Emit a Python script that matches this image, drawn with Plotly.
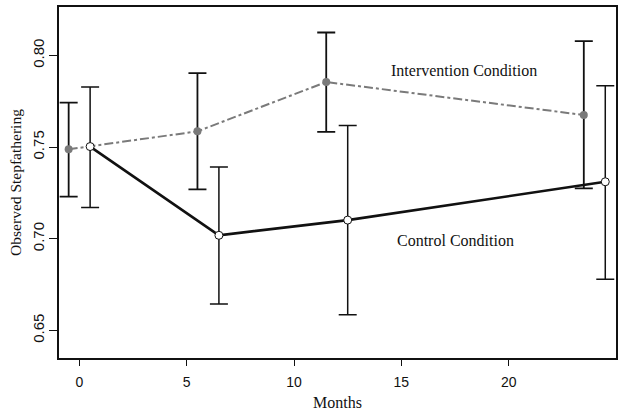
import plotly.graph_objects as go

# Data
int_months = [-0.5, 5.5, 11.5, 23.5]
int_mean = [0.7488, 0.7586, 0.7855, 0.7675]
int_upper = [0.7743, 0.7903, 0.8125, 0.8078]
int_lower = [0.7230, 0.7269, 0.7583, 0.7275]

ctl_months = [0.5, 6.5, 12.5, 24.5]
ctl_mean = [0.7503, 0.7019, 0.7102, 0.7311]
ctl_upper = [0.7828, 0.7391, 0.7618, 0.7835]
ctl_lower = [0.7170, 0.6644, 0.6586, 0.6780]

x_ticks = [0, 5, 10, 15, 20]
y_ticks = [0.65, 0.70, 0.75, 0.80]
y_tick_labels = ["0.65", "0.70", "0.75", "0.80"]

fig = go.Figure()

fig.add_trace(go.Scatter(
    x=int_months, y=int_mean, mode="lines+markers",
    line=dict(color="#7a7a7a", width=2, dash="dashdot"),
    marker=dict(color="#7a7a7a", size=8),
    error_y=dict(type="data", symmetric=False,
                 array=[u - m for u, m in zip(int_upper, int_mean)],
                 arrayminus=[m - l for m, l in zip(int_mean, int_lower)],
                 color="#111111", thickness=1.8, width=9),
    showlegend=False, hoverinfo="skip"))

fig.add_trace(go.Scatter(
    x=ctl_months, y=ctl_mean, mode="lines+markers",
    line=dict(color="#111111", width=2.6),
    marker=dict(color="white", size=8, line=dict(color="#111111", width=1)),
    error_y=dict(type="data", symmetric=False,
                 array=[u - m for u, m in zip(ctl_upper, ctl_mean)],
                 arrayminus=[m - l for m, l in zip(ctl_mean, ctl_lower)],
                 color="#111111", thickness=1.5, width=9),
    showlegend=False, hoverinfo="skip"))

serif = "Liberation Serif"
sans = "Liberation Sans"

fig.add_annotation(x=17.9, y=0.7918, text="Intervention Condition", showarrow=False,
                   font=dict(family=serif, size=16, color="#111111"))
fig.add_annotation(x=17.5, y=0.699, text="Control Condition", showarrow=False,
                   font=dict(family=serif, size=16, color="#111111"))

fig.update_layout(
    width=625, height=414,
    margin=dict(l=59, r=9, t=5, b=52),
    paper_bgcolor="white", plot_bgcolor="white",
    xaxis=dict(range=[-0.95, 25.0], tickvals=x_ticks, ticks="outside", ticklen=6,
               tickwidth=1.2, tickcolor="#111111", showgrid=False, zeroline=False,
               showline=True, linecolor="#111111", linewidth=2, mirror=True,
               ticklabelstandoff=4,
               tickfont=dict(family=sans, size=14, color="#111111"),
               title=dict(text="Months", font=dict(family=serif, size=16, color="#111111"),
                          standoff=8)),
    yaxis=dict(range=[0.635, 0.8264], tickvals=y_ticks, ticktext=y_tick_labels,
               ticks="outside", ticklen=8, tickwidth=1.2, tickcolor="#111111",
               tickangle=-90, showgrid=False, zeroline=False,
               showline=True, linecolor="#111111", linewidth=2, mirror=True,
               ticklabelstandoff=-1,
               tickfont=dict(family=sans, size=15, color="#111111"),
               title=dict(text="Observed Stepfathering",
                          font=dict(family=serif, size=15.5, color="#111111"),
                          standoff=5)),
)

fig.write_html("out.html", config={"displayModeBar": False},
               post_script="document.body.style.margin='0px';")
